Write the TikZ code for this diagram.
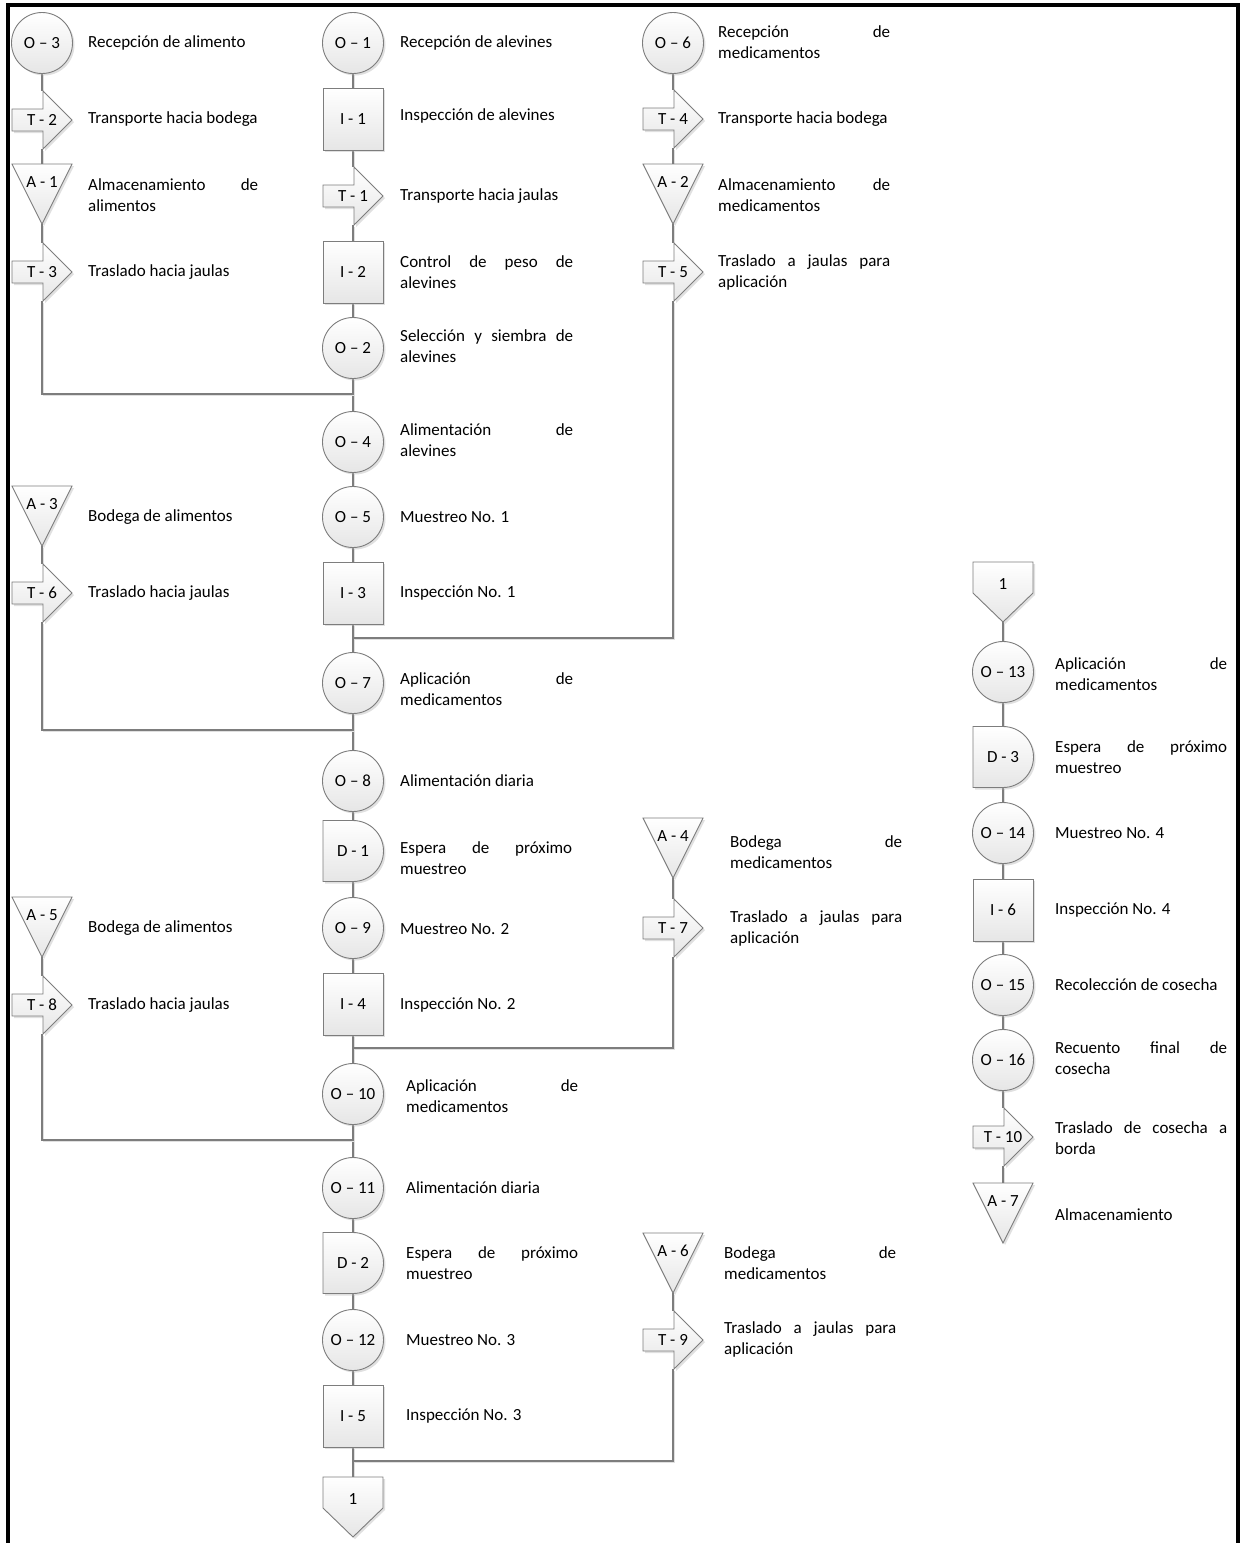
\documentclass[tikz,border=0pt]{standalone}
\usepackage{fontspec}
\setmainfont{Carlito}
\usetikzlibrary{shadows,calc}
\pgfdeclarelayer{bg}
\pgfsetlayers{bg,main}

\definecolor{edgegray}{RGB}{125,125,125}
\definecolor{fillgray}{RGB}{230,230,230}

\newcommand{\descfont}{\fontsize{17}{21}\selectfont}
\newcommand{\tagfont}{\fontsize{17}{20}\selectfont}

\tikzset{
  shp/.style={draw=edgegray, line width=0.9pt, top color=white, bottom color=fillgray,
    drop shadow={shadow xshift=2pt, shadow yshift=-2pt, fill=black!30, opacity=0.4}},
  op/.style={shp, circle, minimum size=61pt, inner sep=0pt, font=\tagfont},
  insp/.style={shp, rectangle, minimum width=60pt, minimum height=62pt, inner sep=0pt, font=\tagfont},
  slot/.style={minimum width=60pt, minimum height=#1, inner sep=0pt, outer sep=0pt},
  tag/.style={font=\tagfont, inner sep=0pt},
  descr/.style={anchor=west, align=left, inner sep=0pt, font=\descfont},
  conn/.style={draw=edgegray, line width=1.2pt,
    preaction={draw=black!12, line width=1.2pt, transform canvas={shift={(1.5pt,-1.5pt)}}}},
}

% transport arrow: name, x, y, label
\newcommand{\trn}[4]{%
  \node[slot=58pt] (#1) at (#2,#3) {};
  \path[shp] (#2-30,#3-11) -- (#2+1,#3-11) -- (#2+1,#3-29) -- (#2+30,#3)
     -- (#2+1,#3+29) -- (#2+1,#3+11) -- (#2-30,#3+11) -- cycle;
  \node[tag] (#1-t) at (#2,#3) {#4};}
% storage triangle: name, x, top y, label
\newcommand{\tri}[4]{%
  \node[slot=60pt] (#1) at (#2,#3+30) {};
  \path[shp] (#2-30,#3) -- (#2+30,#3) -- (#2,#3+60) -- cycle;
  \node[tag] (#1-t) at (#2,#3+18) {#4};}
% delay: name, x, y, label
\newcommand{\dly}[4]{%
  \node[slot=61pt] (#1) at (#2,#3) {};
  \path[shp] (#2-30,#3-30.5) -- (#2,#3-30.5)
     arc[start angle=90, end angle=-90, radius=30.5pt] -- (#2-30,#3+30.5) -- cycle;
  \node[tag] (#1-t) at (#2,#3) {#4};}
% off-page connector: name, x, top y, label
\newcommand{\opg}[4]{%
  \node[slot=60pt] (#1) at (#2,#3+30) {};
  \path[shp] (#2-30,#3) -- (#2+30,#3) -- (#2+30,#3+31) -- (#2,#3+60) -- (#2-30,#3+31) -- cycle;
  \node[tag] (#1-t) at (#2,#3+22) {#4};}
% descriptions
\newcommand{\desc}[4]{\node[descr] (#1) at (#2,#3) {#4};}
\newcommand{\dtwo}[6]{\node[descr] (#1) at (#2,#3) {\makebox[#4][s]{#5}\\#6};}

\begin{document}
\begin{tikzpicture}[x=1pt, y=-1pt]
\useasboundingbox (0,0) rectangle (1240,1543);

% page frame (open at the bottom)
\draw[line width=4pt] (7.5,1545) -- (7.5,5) -- (1237.5,5) -- (1237.5,1545);

% ---------- column A ----------
\node[op] (o3) at (42,43) {O – 3};
\trn{t2}{42}{120}{T - 2}
\tri{a1}{42}{164}{A - 1}
\trn{t3}{42}{272}{T - 3}
\tri{a3}{42}{486}{A - 3}
\trn{t6}{42}{593}{T - 6}
\tri{a5}{42}{897}{A - 5}
\trn{t8}{42}{1005}{T - 8}

\desc{o3d}{88}{43}{Recepción de alimento}
\desc{t2d}{88}{119}{Transporte hacia bodega}
\dtwo{a1d}{88}{195.5}{170pt}{Almacenamiento de}{alimentos}
\desc{t3d}{88}{272}{Traslado hacia jaulas}
\desc{a3d}{88}{517}{Bodega de alimentos}
\desc{t6d}{88}{593}{Traslado hacia jaulas}
\desc{a5d}{88}{928}{Bodega de alimentos}
\desc{t8d}{88}{1005}{Traslado hacia jaulas}

% ---------- column B ----------
\node[op] (o1) at (353,43) {O – 1};
\node[insp] (i1) at (353,119) {I - 1};
\trn{t1}{353}{196}{T - 1}
\node[insp] (i2) at (353,272) {I - 2};
\node[op] (o2) at (353,348) {O – 2};
\node[op] (o4) at (353,442) {O – 4};
\node[op] (o5) at (353,517) {O – 5};
\node[insp] (i3) at (353,593) {I - 3};
\node[op] (o7) at (353,683) {O – 7};
\node[op] (o8) at (353,781) {O – 8};
\dly{d1}{353}{851}{D - 1}
\node[op] (o9) at (353,928) {O – 9};
\node[insp] (i4) at (353,1004) {I - 4};
\node[op] (o10) at (353,1094) {O – 10};
\node[op] (o11) at (353,1188) {O – 11};
\dly{d2}{353}{1263}{D - 2}
\node[op] (o12) at (353,1340) {O – 12};
\node[insp] (i5) at (353,1416) {I - 5};
\opg{c1}{353}{1477}{1}

\desc{o1d}{400}{43}{Recepción de alevines}
\desc{i1d}{400}{116}{Inspección de alevines}
\desc{t1d}{400}{196}{Transporte hacia jaulas}
\dtwo{i2d}{400}{272}{173pt}{Control de peso de}{alevines}
\dtwo{o2d}{400}{346}{173pt}{Selección y siembra de}{alevines}
\dtwo{o4d}{400}{440}{173pt}{Alimentación de}{alevines}
\desc{o5d}{400}{517}{Muestreo No. 1}
\desc{i3d}{400}{593}{Inspección No. 1}
\dtwo{o7d}{400}{689}{173pt}{Aplicación de}{medicamentos}
\desc{o8d}{400}{781}{Alimentación diaria}
\dtwo{d1d}{400}{858}{172pt}{Espera de próximo}{muestreo}
\desc{o9d}{400}{929}{Muestreo No. 2}
\desc{i4d}{400}{1005}{Inspección No. 2}
\dtwo{o10d}{406}{1096}{172pt}{Aplicación de}{medicamentos}
\desc{o11d}{406}{1188}{Alimentación diaria}
\dtwo{d2d}{406}{1263}{172pt}{Espera de próximo}{muestreo}
\desc{o12d}{406}{1340}{Muestreo No. 3}
\desc{i5d}{406}{1416}{Inspección No. 3}

% ---------- column C ----------
\node[op] (o6) at (673,43) {O – 6};
\trn{t4}{673}{119}{T - 4}
\tri{a2}{673}{164}{A - 2}
\trn{t5}{673}{272}{T - 5}
\tri{a4}{673}{818}{A - 4}
\trn{t7}{673}{928}{T - 7}
\tri{a6}{673}{1233}{A - 6}
\trn{t9}{673}{1340}{T - 9}

\dtwo{o6d}{718}{42.5}{172pt}{Recepción de}{medicamentos}
\desc{t4d}{718}{119}{Transporte hacia bodega}
\dtwo{a2d}{718}{195.5}{172pt}{Almacenamiento de}{medicamentos}
\dtwo{t5d}{718}{272}{172pt}{Traslado a jaulas para}{aplicación}
\dtwo{a4d}{730}{852}{172pt}{Bodega de}{medicamentos}
\dtwo{t7d}{730}{928.5}{172pt}{Traslado a jaulas para}{aplicación}
\dtwo{a6d}{724}{1263.5}{172pt}{Bodega de}{medicamentos}
\dtwo{t9d}{724}{1339.5}{172pt}{Traslado a jaulas para}{aplicación}

% ---------- column D ----------
\opg{c2}{1003}{562}{1}
\node[op] (o13) at (1003,672) {O – 13};
\dly{d3}{1003}{757}{D - 3}
\node[op] (o14) at (1003,833) {O – 14};
\node[insp] (i6) at (1003,910) {I - 6};
\node[op] (o15) at (1003,985) {O – 15};
\node[op] (o16) at (1003,1060) {O – 16};
\trn{t10}{1003}{1137}{T - 10}
\tri{a7}{1003}{1183}{A - 7}

\dtwo{o13d}{1055}{674}{172pt}{Aplicación de}{medicamentos}
\dtwo{d3d}{1055}{757}{172pt}{Espera de próximo}{muestreo}
\desc{o14d}{1055}{833}{Muestreo No. 4}
\desc{i6d}{1055}{910}{Inspección No. 4}
\desc{o15d}{1055}{985}{Recolección de cosecha}
\dtwo{o16d}{1055}{1058}{172pt}{Recuento final de}{cosecha}
\dtwo{t10d}{1055}{1138}{172pt}{Traslado de cosecha a}{borda}
\desc{a7d}{1055}{1215}{Almacenamiento}

% ---------- junction points ----------
\coordinate (ja1) at (42,394);   \coordinate (jb1) at (353,394);
\coordinate (jc1) at (673,638);  \coordinate (jd1) at (353,638);
\coordinate (ja2) at (42,730);   \coordinate (jb2) at (353,730);
\coordinate (jc2) at (673,1048); \coordinate (jd2) at (353,1048);
\coordinate (ja3) at (42,1140);  \coordinate (jb3) at (353,1140);
\coordinate (jc3) at (673,1461); \coordinate (jd3) at (353,1461);

% ---------- connectors ----------
\begin{pgfonlayer}{bg}
\foreach \a/\b in {o3/t2, t2/a1, a1/t3, a3/t6, a5/t8,
                   o1/i1, i1/t1, t1/i2, i2/o2, o2/o4, o4/o5, o5/i3, i3/o7, o7/o8,
                   o8/d1, d1/o9, o9/i4, i4/o10, o10/o11, o11/d2, d2/o12, o12/i5, i5/c1,
                   o6/t4, t4/a2, a2/t5, a4/t7, a6/t9,
                   c2/o13, o13/d3, d3/o14, o14/i6, i6/o15, o15/o16, o16/t10, t10/a7}
  \draw[conn] (\a) -- (\b);
\draw[conn] (t3) -- (ja1) -- (jb1);
\draw[conn] (t5) -- (jc1) -- (jd1);
\draw[conn] (t6) -- (ja2) -- (jb2);
\draw[conn] (t7) -- (jc2) -- (jd2);
\draw[conn] (t8) -- (ja3) -- (jb3);
\draw[conn] (t9) -- (jc3) -- (jd3);
\end{pgfonlayer}
\end{tikzpicture}
\end{document}
